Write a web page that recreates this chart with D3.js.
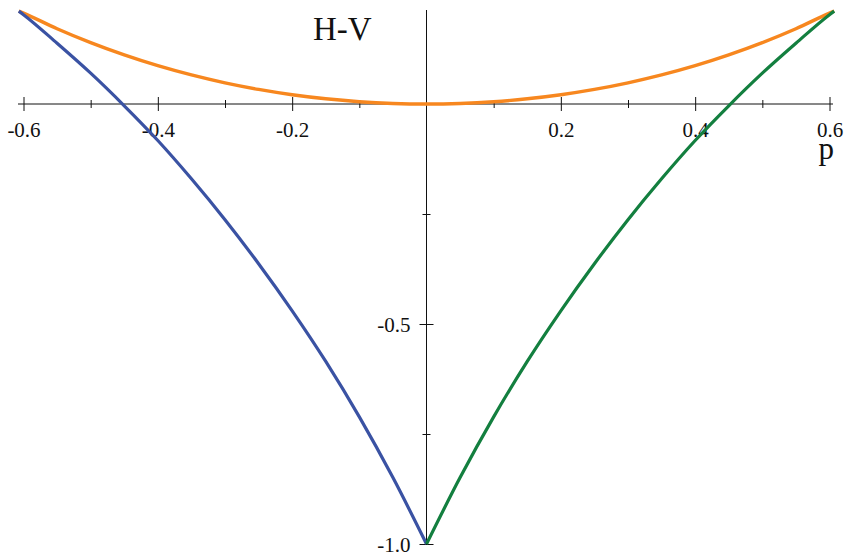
<!DOCTYPE html>
<html>
<head>
<meta charset="utf-8">
<script src="https://cdn.jsdelivr.net/npm/d3@7"></script>
<style>
  html, body { margin: 0; padding: 0; background: #fff; }
  svg { display: block; }
  text { font-family: "Liberation Serif", "DejaVu Serif", serif; fill: #111; }
</style>
</head>
<body>
<svg id="chart" width="846" height="557"></svg>
<script>
// Momentum grid (|p|) on which the three branches are sampled
const pGrid = [0, 0.05, 0.1, 0.15, 0.2, 0.25, 0.3, 0.35, 0.4, 0.45, 0.5, 0.55, 0.6, 0.607];
// Lower branch H-V (value at |p|): blue for p<0, green for p>0
const lowerBranch = [-1.0, -0.849, -0.711, -0.585, -0.470, -0.363, -0.263, -0.170, -0.083, -0.004, 0.070, 0.138, 0.203, 0.211];
// Upper branch H-V (symmetric in p)
const upperBranch = [0.0, 0.0013, 0.0052, 0.0118, 0.0210, 0.0331, 0.0480, 0.0660, 0.0870, 0.1115, 0.1394, 0.171, 0.2066, 0.211];

const xMajor = [-0.6, -0.4, -0.2, 0.2, 0.4, 0.6];
const xMinor = [-0.5, -0.3, -0.1, 0.1, 0.3, 0.5];
const yMajor = [-1.0, -0.5];
const yMinor = [-0.75, -0.25];

const svg = d3.select("#chart");
const x = d3.scaleLinear().domain([-0.6, 0.6]).range([23.5, 829.5]);
const y = d3.scaleLinear().domain([-1, 0]).range([544, 104]);

const axisColor = "#111";
const fmt = d => d3.format(".1f")(d).replace("\u2212", "-");

// ---- x axis (crossing at H-V = 0)
svg.append("line").attr("x1", 18).attr("x2", 833).attr("y1", y(0)).attr("y2", y(0))
  .attr("stroke", axisColor).attr("stroke-width", 1);

const xMajAxis = svg.append("g").attr("transform", `translate(0,${y(0)})`)
  .call(d3.axisBottom(x).tickValues(xMajor).tickFormat(fmt).tickSize(7));
const xMinAxis = svg.append("g").attr("transform", `translate(0,${y(0)})`)
  .call(d3.axisBottom(x).tickValues(xMinor).tickFormat("").tickSize(4));
[xMajAxis, xMinAxis].forEach(g => {
  g.select(".domain").remove();
  g.selectAll(".tick line").attr("stroke", axisColor).attr("stroke-width", 1);
});
xMajAxis.selectAll(".tick line").attr("y1", -7).attr("y2", 7);
xMinAxis.selectAll(".tick line").attr("y1", -4).attr("y2", 4);
xMajAxis.selectAll(".tick text")
  .attr("y", 33).attr("dy", null)
  .style("font-family", "'Liberation Serif', serif").style("font-size", "21px").attr("fill", "#111");

// ---- y axis (crossing at p = 0)
svg.append("line").attr("x1", x(0)).attr("x2", x(0)).attr("y1", 10).attr("y2", 545)
  .attr("stroke", axisColor).attr("stroke-width", 1);

const yMajAxis = svg.append("g").attr("transform", `translate(${x(0)},0)`)
  .call(d3.axisLeft(y).tickValues(yMajor).tickFormat(fmt).tickSize(7));
const yMinAxis = svg.append("g").attr("transform", `translate(${x(0)},0)`)
  .call(d3.axisLeft(y).tickValues(yMinor).tickFormat("").tickSize(4));
[yMajAxis, yMinAxis].forEach(g => {
  g.select(".domain").remove();
  g.selectAll(".tick line").attr("stroke", axisColor).attr("stroke-width", 1);
});
yMajAxis.selectAll(".tick line").attr("x1", -7).attr("x2", 7);
yMinAxis.selectAll(".tick line").attr("x1", -4).attr("x2", 4);
yMajAxis.selectAll(".tick text")
  .attr("x", -16).attr("dy", "7px")
  .style("font-family", "'Liberation Serif', serif").style("font-size", "21px").attr("fill", "#111");

// ---- axis titles
svg.append("text").attr("x", 834).attr("y", 159).attr("text-anchor", "end")
  .style("font-size", "31px").text("p");
svg.append("text").attr("x", 313).attr("y", 40)
  .style("font-size", "33px").text("H-V");

// ---- curves
const line = d3.line().x(d => x(d[0])).y(d => y(d[1])).curve(d3.curveMonotoneX);

const n = pGrid.length;
const upperPts = pGrid.slice().reverse().map((p, i) => [-p, upperBranch[n - 1 - i]])
  .concat(pGrid.slice(1).map((p, i) => [p, upperBranch[i + 1]]));
const bluePts = pGrid.slice().reverse().map((p, i) => [-p, lowerBranch[n - 1 - i]]);
const greenPts = pGrid.map((p, i) => [p, lowerBranch[i]]);

svg.append("path").datum(upperPts).attr("d", line)
  .attr("fill", "none").attr("stroke", "#f7871f").attr("stroke-width", 3.4).attr("stroke-linejoin", "round");
svg.append("path").datum(bluePts).attr("d", line)
  .attr("fill", "none").attr("stroke", "#3a52a3").attr("stroke-width", 3.2).attr("stroke-linejoin", "round");
svg.append("path").datum(greenPts).attr("d", line)
  .attr("fill", "none").attr("stroke", "#137f3f").attr("stroke-width", 3.2).attr("stroke-linejoin", "round");
</script>
</body>
</html>
